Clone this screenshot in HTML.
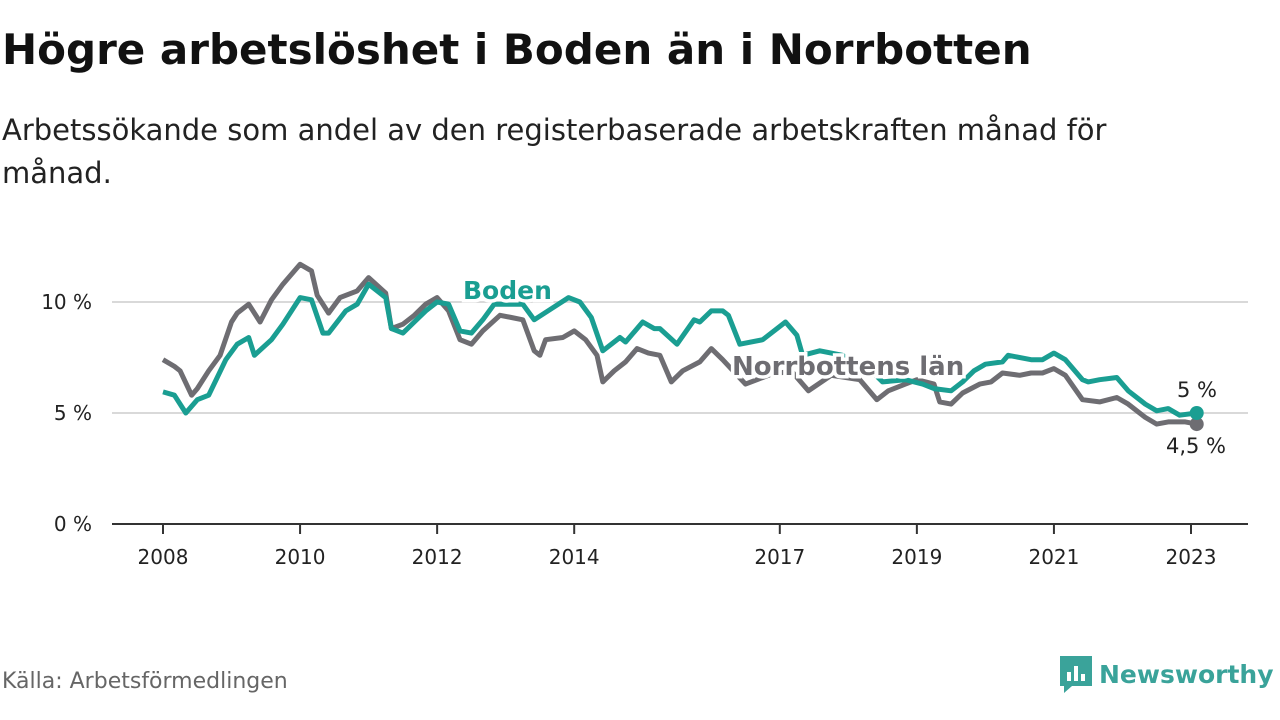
<!DOCTYPE html>
<html><head><meta charset="utf-8"><style>
body{margin:0;background:#fff;width:1280px;height:720px;overflow:hidden;font-family:"DejaVu Sans",sans-serif;color:#111}
#title{position:absolute;left:2px;top:25px;font-size:42px;font-weight:bold;white-space:nowrap}
#sub{position:absolute;left:2px;top:109px;font-size:29px;line-height:43px;width:1185px;color:#222}
#src{position:absolute;left:2px;top:669px;font-size:22px;color:#666}
#logo{position:absolute;left:1058px;top:654px;display:flex;align-items:center;gap:5px;color:#3aa39a;font-size:25px;font-weight:bold;white-space:nowrap}
svg{position:absolute;left:0;top:0}
</style></head><body>
<div id="title">Högre arbetslöshet i Boden än i Norrbotten</div>
<div id="sub">Arbetssökande som andel av den registerbaserade arbetskraften månad för månad.</div>
<div id="src">Källa: Arbetsförmedlingen</div>
<div id="logo"><svg style="position:static" width="36" height="40" viewBox="0 0 36 40"><path d="M2 2h32v30H14l-8 7v-7H2z" fill="#3aa39a"/><rect x="9" y="18" width="4" height="9" fill="#fff"/><rect x="16" y="12" width="4" height="15" fill="#fff"/><rect x="23" y="20" width="4" height="7" fill="#fff"/></svg><span>Newsworthy</span></div>
<svg id="chart" width="1280" height="720"></svg>
<script>
const yTicks=[0,5,10];
const yTickLabels=["0 %","5 %","10 %"];
const xTicks=[2008,2010,2012,2014,2017,2019,2021,2023];
const bodenMonths=[0,2,4,6,8,11,13,15,16,19,21,24,26,28,29,32,34,36,39,40,42,44,46,48,50,52,54,56,58,63,65,68,71,73,75,77,80,81,84,86,87,90,93,94,96,98,99,101,105,109,111,112,115,119,124,126,130,133,135,138,140,142,144,147,148,152,154,156,158,161,162,164,167,169,172,174,176,178,181];
const bodenValues=[5.95,5.8,5.0,5.6,5.8,7.4,8.1,8.4,7.6,8.3,9.0,10.2,10.1,8.6,8.6,9.6,9.9,10.8,10.2,8.8,8.6,9.1,9.6,10.0,9.9,8.7,8.6,9.2,9.9,9.9,9.2,9.7,10.2,10.0,9.3,7.8,8.4,8.2,9.1,8.8,8.8,8.1,9.2,9.1,9.6,9.6,9.4,8.1,8.3,9.1,8.5,7.6,7.8,7.6,6.9,6.4,6.5,6.3,6.1,6.0,6.4,6.9,7.2,7.3,7.6,7.4,7.4,7.7,7.4,6.5,6.4,6.5,6.6,6.0,5.4,5.1,5.2,4.9,5.0];
const norrMonths=[0,2,3,5,6,8,10,12,13,15,17,19,21,24,26,27,29,31,34,36,39,40,42,44,46,48,50,52,54,56,59,61,63,65,66,67,70,72,74,76,77,79,81,83,85,87,89,91,94,96,98,102,106,110,113,117,122,125,127,130,132,135,136,138,140,143,145,147,150,152,154,156,158,161,164,167,169,172,174,176,179,181];
const norrValues=[7.4,7.1,6.9,5.8,6.1,6.9,7.6,9.1,9.5,9.9,9.1,10.1,10.8,11.7,11.4,10.3,9.5,10.2,10.5,11.1,10.4,8.8,9.0,9.4,9.9,10.2,9.6,8.3,8.1,8.7,9.4,9.3,9.2,7.8,7.6,8.3,8.4,8.7,8.3,7.6,6.4,6.9,7.3,7.9,7.7,7.6,6.4,6.9,7.3,7.9,7.4,6.3,6.7,6.9,6.0,6.7,6.5,5.6,6.0,6.3,6.5,6.3,5.5,5.4,5.9,6.3,6.4,6.8,6.7,6.8,6.8,7.0,6.7,5.6,5.5,5.7,5.4,4.8,4.5,4.6,4.6,4.5];

const NS="http://www.w3.org/2000/svg";
const svg=document.getElementById('chart');
const X0=163,X1=1191,Y0=524,Y10=302;
const xYear=y=>X0+(y-2008)*(X1-X0)/15;
const xMonth=m=>xYear(2008+m/12);
const yv=v=>Y0+(Y10-Y0)*v/10;
const FF='DejaVu Sans, sans-serif';
function el(t,a){const e=document.createElementNS(NS,t);for(const k in a)e.setAttribute(k,a[k]);svg.appendChild(e);return e;}
yTicks.forEach((t,i)=>{
 if(t>0){const g=el('line',{x1:112,x2:1248,y1:yv(t),y2:yv(t),stroke:'#d9d9d9','stroke-width':2});
 
 }
 const l=el('text',{x:92,y:yv(t)+7,'text-anchor':'end','font-size':20,fill:'#222','font-family':FF});
 l.textContent=yTickLabels[i];
 
 
});
const ax=el('line',{x1:112,x2:1248,y1:Y0,y2:Y0,stroke:'#333','stroke-width':2});


xTicks.forEach(t=>{
 const tk=el('line',{x1:xYear(t),x2:xYear(t),y1:Y0,y2:Y0+10,stroke:'#333','stroke-width':2});
 
 
 const l=el('text',{x:xYear(t),y:Y0+40,'text-anchor':'middle','font-size':20,fill:'#222','font-family':FF});
 l.textContent=t;
 
 
});
function line(ms,vs,c,name){
 const d=ms.map((m,i)=>(i?'L':'M')+xMonth(m).toFixed(1)+','+yv(vs[i]).toFixed(1)).join('');
 const p=el('path',{d:d,fill:'none',stroke:c,'stroke-width':5,'stroke-linejoin':'round'});
 
 
}
line(norrMonths,norrValues,'#6e6d72','norrbotten-line');
line(bodenMonths,bodenValues,'#1a9e92','boden-line');
const n=norrMonths.length-1,b=bodenMonths.length-1;
const d1=el('circle',{cx:xMonth(norrMonths[n]),cy:yv(norrValues[n]),r:7,fill:'#6e6d72'});


const d2=el('circle',{cx:xMonth(bodenMonths[b]),cy:yv(bodenValues[b]),r:7,fill:'#1a9e92'});


function lab(x,y,txt,c,name,bold,size,anchor){
 const t=el('text',{x:x,y:y,'font-size':size,fill:c,'font-weight':bold?'bold':'normal','text-anchor':anchor||'start',stroke:'#fff','stroke-width':bold?7:0,'paint-order':'stroke','font-family':FF});
 t.textContent=txt;
 
 
}
lab(463,299,'Boden','#1a9e92','boden-label',true,25);
lab(732,375,'Norrbottens län','#6e6d72','norrbotten-label',true,26);
lab(1197,397,'5 %','#222','boden-end-value',false,21,'middle');
lab(1196,453,'4,5 %','#222','norrbotten-end-value',false,21,'middle');
</script>
</body></html>
